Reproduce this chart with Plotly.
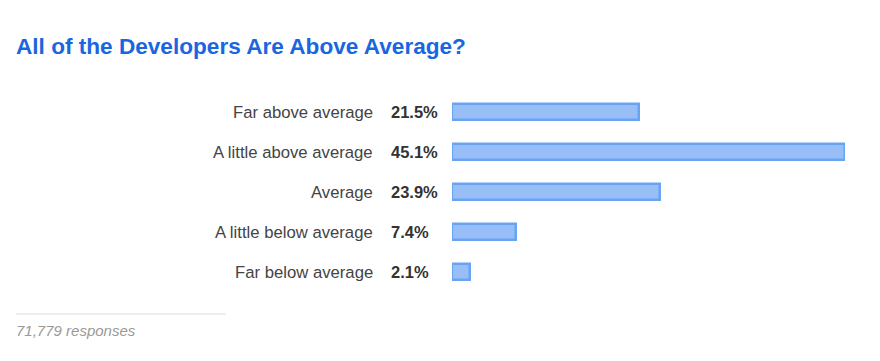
import plotly.graph_objects as go

categories = ["Far above average", "A little above average", "Average",
              "A little below average", "Far below average"]
values = [21.5, 45.1, 23.9, 7.4, 2.1]
value_labels = ["21.5%", "45.1%", "23.9%", "7.4%", "2.1%"]
title_text = "All of the Developers Are Above Average?"
footer_text = "71,779 responses"

W, H = 880, 361
OFF = 8  # page body margin
ml, mr, mt, mb = 0, 0, 92 - OFF, H - (292 - OFF)
plot_h = H - mt - mb

def px(x):
    return (x - OFF) / W

def py(y):
    return (H - mb - (y - OFF)) / plot_h

fig = go.Figure()
fig.add_trace(go.Bar(
    x=values, y=categories, orientation="h",
    width=0.4,
    marker=dict(color="#97bef6", line=dict(color="#6ba3f3", width=2.5)),
    hoverinfo="skip",
))

FONT = "Liberation Sans, Arial"
annotations = []
for c, lab in zip(categories, value_labels):
    annotations.append(dict(x=px(375), y=c, xref="paper", yref="y", text=c,
                            showarrow=False, xanchor="right", yanchor="middle",
                            font=dict(family=FONT, size=16.7, color="#444444")))
    annotations.append(dict(x=px(389), y=c, xref="paper", yref="y", text="<b>" + lab + "</b>",
                            showarrow=False, xanchor="left", yanchor="middle",
                            font=dict(family=FONT, size=16.5, color="#333333")))

annotations.append(dict(x=px(14), y=py(47), xref="paper", yref="paper",
                        text="<b>" + title_text + "</b>", showarrow=False,
                        xanchor="left", yanchor="middle",
                        font=dict(family=FONT, size=22.6, color="#1a66e0")))
annotations.append(dict(x=px(14), y=py(330), xref="paper", yref="paper",
                        text="<i>" + footer_text + "</i>", showarrow=False,
                        xanchor="left", yanchor="middle",
                        font=dict(family=FONT, size=15, color="#999999")))

fig.update_layout(
    width=W, height=H,
    margin=dict(l=ml, r=mr, t=mt, b=mb, pad=0),
    paper_bgcolor="white", plot_bgcolor="white",
    showlegend=False,
    bargap=0,
    annotations=annotations,
    shapes=[dict(type="line", xref="paper", yref="paper",
                 x0=px(16), x1=px(226), y0=py(314), y1=py(314),
                 line=dict(color="#dddddd", width=1))],
    xaxis=dict(domain=[px(452), px(845)], range=[0, max(values)],
               visible=False, fixedrange=True),
    yaxis=dict(autorange=False, visible=False, fixedrange=True,
               range=[4.5, -0.5]),
)

fig.write_html("out.html")
